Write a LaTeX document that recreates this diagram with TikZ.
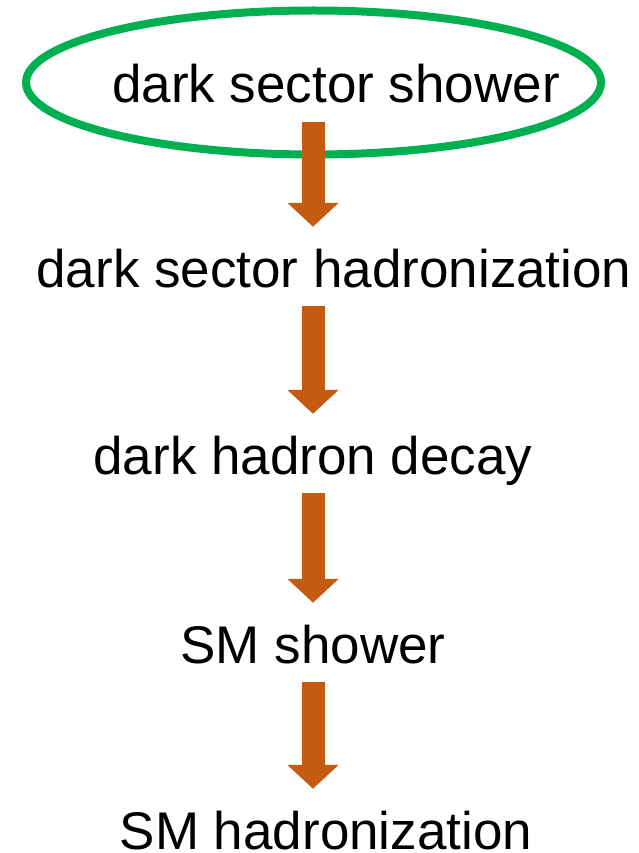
\documentclass[tikz,border=0pt]{standalone}
\usepackage{fontspec}
\setmainfont{Liberation Sans}
\usepackage{tikz}
\usetikzlibrary{arrows.meta}
\definecolor{ringgreen}{HTML}{00B050}
\definecolor{flowbrown}{HTML}{C55A11}
\tikzset{
  stage/.style={anchor=base, inner sep=0pt, text height=39pt, text depth=11pt,
                font=\fontsize{53}{60}\selectfont},
  flow/.style={draw=flowbrown, line width=23pt,
               -{Triangle[width=50pt,length=24pt]},
               shorten <=8pt, shorten >=21pt}
}

\begin{document}
\begin{tikzpicture}[x=1pt,y=-1pt,
  ring/.style={draw=ringgreen, line width=8pt}
]
\useasboundingbox (0,0) rectangle (638,853);

\coordinate (axis) at (313,0);
\node[stage] (dshower) at (336,103) {dark sector shower};
\node[stage] (dhadron) at (334,287) {dark sector hadronization};
\node[stage] (ddecay)  at (313,474) {dark hadron decay};
\node[stage] (smshower) at (313,663) {SM shower};
\node[stage] (smhadron) at (326,849) {SM hadronization};

% the ring
\draw[ring] (313.5,82.5) ellipse [x radius=287.5, y radius=72];

% the arrows
\foreach \a/\b in {dshower/dhadron, dhadron/ddecay, ddecay/smshower,
                   smshower/smhadron}
  \draw[flow] (\a.south -| axis) -- (\b.north -| axis);
\end{tikzpicture}
\end{document}
